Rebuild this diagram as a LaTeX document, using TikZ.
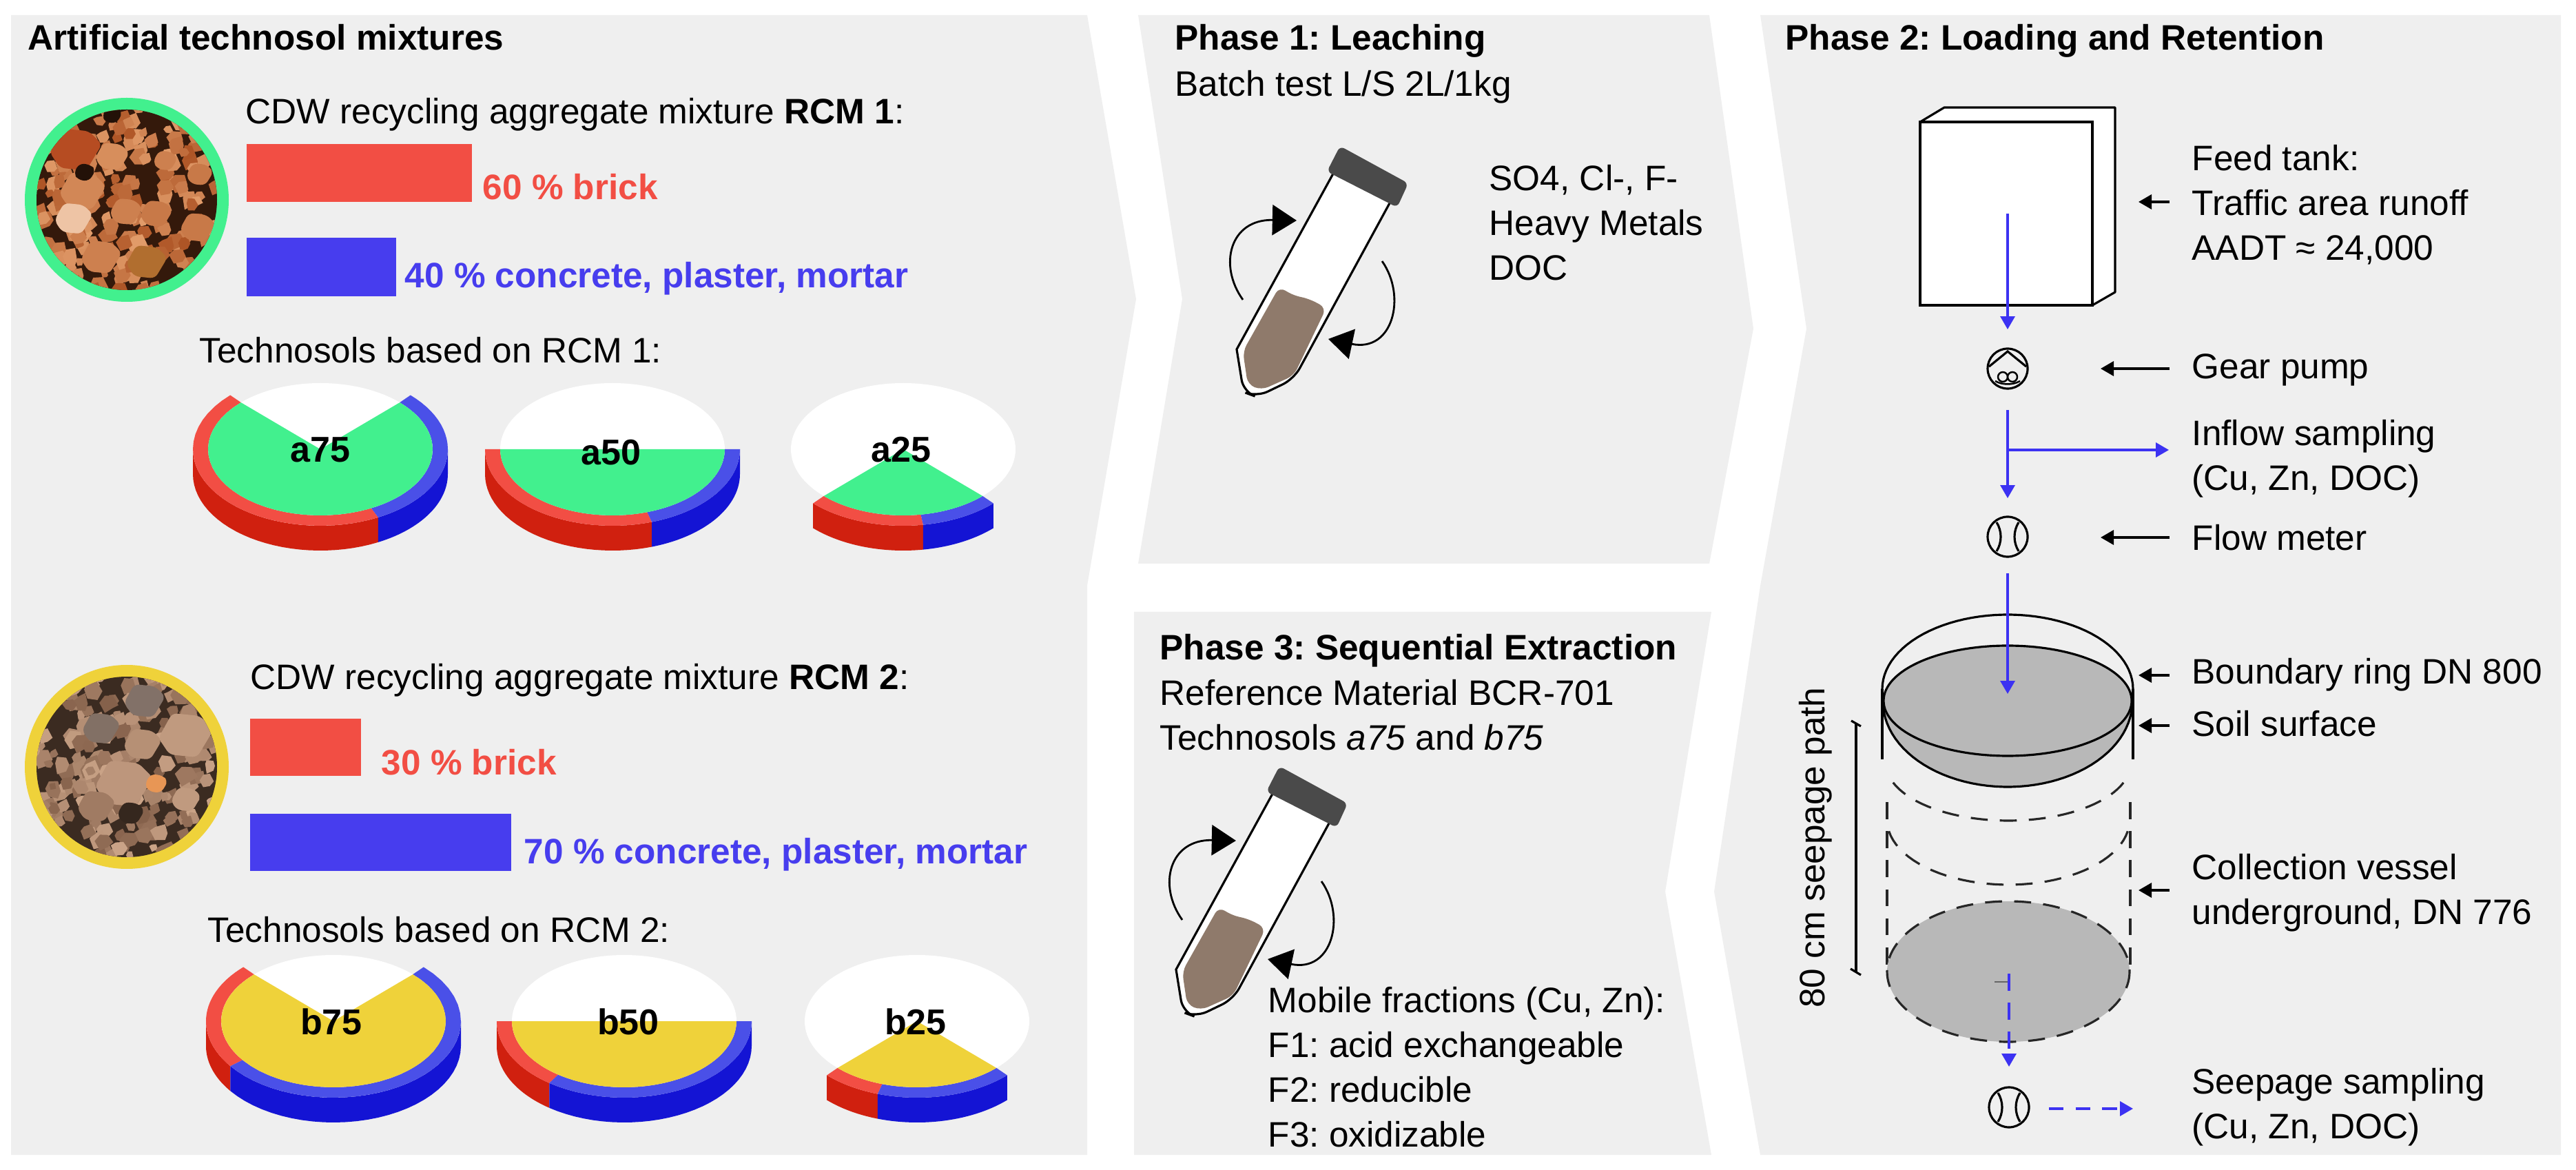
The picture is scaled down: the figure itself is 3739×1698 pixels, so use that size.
\documentclass[tikz,border=0pt]{standalone}
\usepackage{fontspec}
\setmainfont{Liberation Sans}
\usetikzlibrary{arrows.meta}

\definecolor{panelgray}{HTML}{EFEFEF}
\definecolor{brickred}{HTML}{F24E44}
\definecolor{brickside}{HTML}{D0200F}
\definecolor{mixblue}{HTML}{473DEE}
\definecolor{ringblue}{HTML}{4A50E8}
\definecolor{sideblue}{HTML}{1414D4}
\definecolor{rcmgreen}{HTML}{42F08E}
\definecolor{rcmyellow}{HTML}{EFD23A}
\definecolor{soilgray}{HTML}{B8B8B8}
\definecolor{tubesoil}{HTML}{8F7A6B}
\definecolor{capgray}{HTML}{4A4A4A}
\definecolor{flowblue}{HTML}{3C32F2}
\definecolor{stonea}{HTML}{E29C6A}
\definecolor{stoneb}{HTML}{AE5526}
\definecolor{stonec}{HTML}{CBA488}
\definecolor{stoned}{HTML}{84604A}

\tikzset{
    panel/.style={fill=panelgray},
    txt/.style={inner sep=0pt, anchor=base west, font=\fontsize{14.6}{18.4}\selectfont\frenchspacing},
    block/.style={inner sep=0pt, anchor=north west, align=left, font=\fontsize{14.6}{18.4}\selectfont\frenchspacing},
    head/.style={txt, font=\fontsize{14.6}{18.4}\selectfont\bfseries\frenchspacing},
    tag/.style={inner sep=0pt, font=\fontsize{14.8}{18.4}\selectfont\bfseries},
    outline/.style={draw=black, line width=0.9pt},
    flow/.style={draw=flowblue, line width=0.9pt, -{Triangle[length=5.4pt,width=6pt]}},
    pointer/.style={draw=black, line width=0.9pt, -{Triangle[length=5.4pt,width=6pt]}},
    turn/.style={draw=black, line width=0.8pt, -{Triangle[length=10pt,width=12.5pt]}},
    dial/.style={circle, draw=black, line width=0.9pt, inner sep=0pt, minimum size=16.5pt},
    gapline/.style={draw=black!85, line width=0.9pt, dash pattern=on 7pt off 5pt},
}

% cx, cy, start, split, stop, top colour
\newcommand{\soildisc}[6]{
    \pgfmathsetmacro{\sidea}{max(#3,180)}
    \pgfmathsetmacro{\sideb}{min(#5,360)}
    \fill[white] (#1,#2) ellipse [x radius=163, y radius=96];
    \fill[brickside] plot[domain=\sidea:#4, samples=30, variable=\t] ({#1+185*cos(\t)},{#2-111*sin(\t)})
        -- plot[domain=#4:\sidea, samples=30, variable=\t] ({#1+185*cos(\t)},{#2+36-111*sin(\t)}) -- cycle;
    \fill[sideblue] plot[domain=#4:\sideb, samples=30, variable=\t] ({#1+185*cos(\t)},{#2-111*sin(\t)})
        -- plot[domain=\sideb:#4, samples=30, variable=\t] ({#1+185*cos(\t)},{#2+36-111*sin(\t)}) -- cycle;
    \fill[brickred] plot[domain=#3:#4, samples=30, variable=\t] ({#1+185*cos(\t)},{#2-111*sin(\t)})
        -- plot[domain=#4:#3, samples=30, variable=\t] ({#1+163*cos(\t)},{#2-96*sin(\t)}) -- cycle;
    \fill[ringblue] plot[domain=#4:#5, samples=30, variable=\t] ({#1+185*cos(\t)},{#2-111*sin(\t)})
        -- plot[domain=#5:#4, samples=30, variable=\t] ({#1+163*cos(\t)},{#2-96*sin(\t)}) -- cycle;
    \fill[#6] (#1,#2) -- plot[domain=#3:#5, samples=50, variable=\t] ({#1+163*cos(\t)},{#2-96*sin(\t)}) -- cycle;
}

% cx, cy, seed, light stone, dark stone, gaps
\newcommand{\rockphoto}[6]{
    \fill[#6] (#1,#2) circle [radius=132];
    \pgfmathsetseed{#3}
    \foreach \i in {1,...,230}{
        \pgfmathsetmacro{\cxa}{#1+(rnd-0.5)*270}
        \pgfmathsetmacro{\cya}{#2+(rnd-0.5)*270}
        \pgfmathsetmacro{\rad}{6+rnd*9}
        \pgfmathtruncatemacro{\mixa}{rnd*100}
        \fill[#4!\mixa!#5]
            ({\cxa+\rad*(0.7+0.5*rnd)},{\cya+3*rnd})
            -- ({\cxa+0.5*\rad},{\cya+\rad*(0.5+0.5*rnd)})
            -- ({\cxa-0.5*\rad},{\cya+\rad*(0.7+0.5*rnd)})
            -- ({\cxa-\rad*(0.7+0.5*rnd)},{\cya-3*rnd})
            -- ({\cxa-0.5*\rad},{\cya-\rad*(0.5+0.5*rnd)})
            -- ({\cxa+0.5*\rad},{\cya-\rad*(0.7+0.5*rnd)}) -- cycle;
    }
}

% large stones: x, y, radius, colour
\newcommand{\bigstone}[4]{
    \fill[#4, rounded corners=2pt]
        ({#1+#3},{#2-0.2*#3}) -- ({#1+0.4*#3},{#2+0.8*#3}) -- ({#1-0.6*#3},{#2+0.7*#3})
        -- ({#1-#3},{#2+0.1*#3}) -- ({#1-0.5*#3},{#2-0.8*#3}) -- ({#1+0.5*#3},{#2-0.7*#3}) -- cycle;
}

\newcommand{\shaketube}{
    \draw[outline, fill=white] (1940,243) -- (1795,507) [rounded corners=5pt] -- (1805,569) -- (1824,576) -- (1878,550) [sharp corners] -- (2018,293) -- cycle;
    \fill[tubesoil, rounded corners=3pt] (1857,416) -- (1875,428) -- (1901,434) -- (1925,447) -- (1878,545) -- (1831,566) -- (1811,558) -- (1804,510) -- cycle;
    \fill[capgray, rounded corners=2pt] (1945,212) -- (2044,266) -- (2028,301) -- (1926,249) -- cycle;
    \draw[turn] (1804,435) .. controls (1768,385) and (1785,318) .. (1882,320);
    \draw[turn] (2006,379) .. controls (2042,430) and (2022,512) .. (1928,492);
}

\newcommand{\meterlines}{
    \draw[line width=0.9pt] (-16,-21) .. controls (-8,-8) and (-8,8) .. (-16,21);
    \draw[line width=0.9pt] (16,-21) .. controls (8,-8) and (8,8) .. (16,21);
}

\begin{document}
\begin{tikzpicture}[x=0.01cm, y=-0.01cm]
    \useasboundingbox (0,0) rectangle (3739,1698);

    % grey panels
    \fill[panel] (16,22) -- (1578,22) -- (1649,434) -- (1578,850) -- (1578,1676) -- (16,1676) -- cycle;
    \fill[panel] (1652,22) -- (2481,22) -- (2545,477) -- (2481,818) -- (1652,818) -- (1716,434) -- cycle;
    \fill[panel] (1646,888) -- (2484,888) -- (2417,1294) -- (2484,1676) -- (1646,1676) -- cycle;
    \fill[panel] (2555,22) -- (3717,22) -- (3717,1676) -- (2555,1676) -- (2488,1294) -- (2555,850) -- (2622,477) -- cycle;

    % mixtures, upper half
    \node (mixtitle) [head] at (40,73) {Artificial technosol mixtures};
    \fill[rcmgreen] (184,290) circle [radius=148];
    \begin{scope}
        \clip (184,290) circle [radius=131];
        \rockphoto{184}{290}{7}{stonea}{stoneb}{black!70!stoneb}
        \foreach \sx/\sy/\sr/\sc in {120/277/34/{stonea!70!stoneb}, 107/317/28/{stonea!60!white}, 183/307/24/{stonea!60!stoneb}, 227/310/24/{stonea!50!stoneb}, 147/373/30/{stonea!60!stoneb}, 213/380/30/{stonea!30!stoneb!80!olive}, 287/330/26/{stonea!50!stoneb}, 110/217/38/{stoneb!90!red}, 163/227/25/{stonea!80!stoneb}, 240/233/18/{stonea!60!stoneb}, 290/253/20/{stonea!50!stoneb}, 123/250/16/{black!80!stoneb}, 163/167/15/{black!80!stoneb}}{
            \bigstone{\sx}{\sy}{\sr}{\sc}
        }
    \end{scope}
    \node (rcmone) [txt] at (356,180) {CDW recycling aggregate mixture \textbf{RCM 1}:};
    \fill[brickred] (358,209) rectangle (685,293);
    \fill[mixblue] (358,345) rectangle (575,430);
    \node (brickone) [head, text=brickred] at (700,290) {60 \% brick};
    \node (mixone) [head, text=mixblue] at (587,418) {40 \% concrete, plaster, mortar};
    \node (discone) [txt] at (289,527) {Technosols based on RCM 1:};
    \soildisc{465}{652}{135}{297}{405}{rcmgreen}
    \soildisc{889}{652}{180}{288}{360}{rcmgreen}
    \soildisc{1311}{652}{225}{279}{315}{rcmgreen}
    \node (afull) [tag] at (465,653) {a75};
    \node (ahalf) [tag] at (887,657) {a50};
    \node (aquart) [tag] at (1308,653) {a25};

    % mixtures, lower half
    \fill[rcmyellow] (184,1113) circle [radius=148];
    \begin{scope}
        \clip (184,1113) circle [radius=131];
        \rockphoto{184}{1113}{23}{stonec}{stoned}{black!55!stoned}
        \foreach \sx/\sy/\sr/\sc in {210/1017/30/{gray!55!stoned}, 147/1057/28/{gray!50!stoned}, 270/1067/40/{stonec!85!stoned}, 207/1080/28/{stonec!70!stoned}, 180/1137/42/{stonec!80!stoned}, 227/1137/17/{stonea!80!orange}, 140/1170/28/{stonec!40!stoned}, 270/1160/22/{stonec!85!stoned}, 190/1180/20/{black!60!stoned}}{
            \bigstone{\sx}{\sy}{\sr}{\sc}
        }
    \end{scope}
    \node (rcmtwo) [txt] at (363,1001) {CDW recycling aggregate mixture \textbf{RCM 2}:};
    \fill[brickred] (363,1043) rectangle (524,1126);
    \fill[mixblue] (363,1181) rectangle (742,1264);
    \node (bricktwo) [head, text=brickred] at (553,1124) {30 \% brick};
    \node (mixtwo) [head, text=mixblue] at (760,1253) {70 \% concrete, plaster, mortar};
    \node (disctwo) [txt] at (301,1367) {Technosols based on RCM 2:};
    \soildisc{484}{1482}{135}{216}{405}{rcmyellow}
    \soildisc{906}{1482}{180}{234}{360}{rcmyellow}
    \soildisc{1331}{1482}{225}{252}{315}{rcmyellow}
    \node (bfull) [tag] at (481,1483) {b75};
    \node (bhalf) [tag] at (912,1483) {b50};
    \node (bquart) [tag] at (1329,1483) {b25};

    % phase 1
    \node (leachtitle) [head] at (1705,73) {Phase 1: Leaching};
    \node (leachtest) [txt] at (1705,140) {Batch test L/S 2L/1kg};
    \shaketube
    \node (leachlist) [block] at (2161,239) {SO4, Cl-, F-\\Heavy Metals\\DOC};

    % phase 3
    \node (seqtitle) [head] at (1683,958) {Phase 3: Sequential Extraction};
    \node (seqref) [block] at (1683,986) {Reference Material BCR-701\\Technosols \textit{a75} and \textit{b75}};
    \begin{scope}[shift={(-88,900)}]
        \shaketube
    \end{scope}
    \node (seqlist) [block] at (1840,1432) {Mobile fractions (Cu, Zn):\\F1: acid exchangeable\\F2: reducible\\F3: oxidizable};

    % phase 2, tank and pump line
    \node (looptitle) [head] at (2591,73) {Phase 2: Loading and Retention};
    \draw[outline, fill=white, line join=round] (2787,177) -- (2822,156) -- (3070,156) -- (3070,424) -- (3037,443) -- (3037,177) -- cycle;
    \draw[outline, fill=white] (2787,177) rectangle (3037,443);
    \node (tanklbl) [block] at (3181,210) {Feed tank:\\Traffic area runoff\\AADT ≈ 24,000};
    \node (pump) [dial] at (2914,535) {};
    \begin{scope}[shift={(pump)}]
        \draw[line width=0.9pt] (-27,-3) -- (0,-25) -- (27,-3);
        \draw[line width=0.7pt] (-7,12) circle [radius=7];
        \draw[line width=0.7pt] (7,12) circle [radius=7];
        \draw[line width=0.7pt] (-18,18) .. controls (-8,24) and (8,24) .. (18,18);
    \end{scope}
    \node (gearlbl) [txt] at (3181,550) {Gear pump};
    \node (inflowlbl) [block] at (3181,609) {Inflow sampling\\(Cu, Zn, DOC)};
    \node (meter) [dial] at (2914,779) {};
    \begin{scope}[shift={(meter)}]
        \meterlines
    \end{scope}
    \node (meterlbl) [txt] at (3181,799) {Flow meter};

    % phase 2, soil column
    \fill[soilgray] plot[domain=180:360, samples=50, variable=\t] ({2914+181*cos(\t)},{1018-124*sin(\t)}) -- (3095,1018) -- (2733,1018) -- cycle;
    \draw[outline, fill=soilgray] (2914,1017) ellipse [x radius=180, y radius=80];
    \draw[outline] plot[domain=180:0, samples=50, variable=\t] ({2914+182*cos(\t)},{1000-108*sin(\t)});
    \draw[outline] plot[domain=180:360, samples=50, variable=\t] ({2914+181*cos(\t)},{1018-124*sin(\t)});
    \draw[outline] (2732,1000) -- (2732,1102);
    \draw[outline] (3096,1000) -- (3096,1102);
    \draw[gapline] (2739,1164) -- (2739,1413);
    \draw[gapline] (3092,1164) -- (3092,1413);
    \draw[gapline] plot[domain=200:340, samples=40, variable=\t] ({2915+178*cos(\t)},{1107-84*sin(\t)});
    \draw[gapline] plot[domain=190:350, samples=40, variable=\t] ({2915+176*cos(\t)},{1190-94*sin(\t)});
    \draw[gapline, fill=soilgray] (2915,1410) ellipse [x radius=176, y radius=102];
    \draw[draw=black!60, line width=0.4pt] (2895,1425) -- (2916,1425);
    \coordinate (depthtop) at (2694,1050);
    \coordinate (depthend) at (2694,1411);
    \draw[line width=0.9pt] (depthtop) -- (depthend);
    \draw[line width=0.9pt] (2687,1046) -- (2701,1054);
    \draw[line width=0.9pt] (2686,1406) -- (2701,1415);
    \node (depthlbl) [inner sep=0pt, anchor=base, rotate=90, font=\fontsize{14.6}{18.4}\selectfont] at (2648,1230) {80 cm seepage path};
    \node (ringlbl) [txt] at (3181,992) {Boundary ring DN 800};
    \node (surflbl) [txt] at (3181,1069) {Soil surface};
    \node (vessellbl) [block] at (3181,1239) {Collection vessel\\underground, DN 776};
    \node (seepmeter) [dial] at (2916,1607) {};
    \begin{scope}[shift={(seepmeter)}]
        \meterlines
    \end{scope}
    \node (seeplbl) [block] at (3181,1550) {Seepage sampling\\(Cu, Zn, DOC)};

    % flow arrows
    \coordinate (tankout) at (2914,310);
    \coordinate (pumpin) at (2914,478);
    \coordinate (pumpout) at (2914,595);
    \coordinate (meterin) at (2914,723);
    \coordinate (branch) at (2914,653);
    \coordinate (branchend) at (3148,653);
    \coordinate (meterout) at (2914,832);
    \coordinate (soilin) at (2914,1007);
    \coordinate (drain) at (2916,1413);
    \coordinate (drainend) at (2916,1548);
    \coordinate (sampleout) at (2974,1609);
    \coordinate (sampleend) at (3096,1609);
    \draw[flow] (tankout) -- (pumpin);
    \draw[flow] (pumpout) -- (meterin);
    \draw[flow] (branch) -- (branchend);
    \draw[flow] (meterout) -- (soilin);
    \draw[flow, dash pattern=on 7pt off 5pt] (drain) -- (drainend);
    \draw[flow, dash pattern=on 6pt off 5pt] (sampleout) -- (sampleend);

    % pointers from the labels
    \foreach \ptr/\xa/\yy in {feed/3104/293, gear/3049/535, flowm/3049/780, ring/3104/980, surf/3104/1053, vessel/3104/1292}{
        \coordinate (\ptr from) at (3149,\yy);
        \coordinate (\ptr to) at (\xa,\yy);
        \draw[pointer] (\ptr from) -- (\ptr to);
    }
\end{tikzpicture}
\end{document}
